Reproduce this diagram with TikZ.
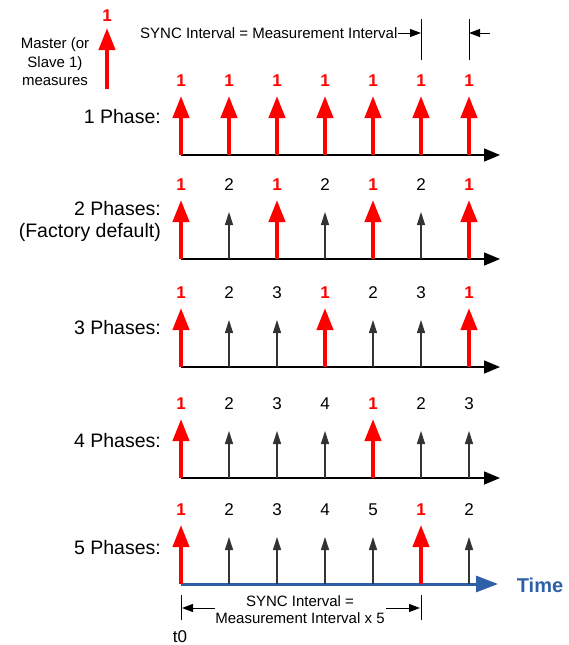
\documentclass[tikz,border=0pt]{standalone}
\usepackage{fontspec}
\setmainfont{Liberation Sans}
\usetikzlibrary{arrows.meta}
\definecolor{mred}{RGB}{255,0,0}
\definecolor{mblue}{RGB}{46,96,168}
\begin{document}
\begin{tikzpicture}[x=1pt,y=-1pt,
 redarr/.style={draw=mred, line width=4pt, -{Triangle[length=22pt,width=16pt]}},
 blkarr/.style={draw=black!80, line width=1.2pt, -{Triangle[length=13pt,width=8pt]}},
 axisline/.style={draw=black, line width=1.5pt, -{Triangle[length=16pt,width=13pt]}},
 blueaxis/.style={draw=mblue, line width=3pt, -{Triangle[length=22pt,width=16pt]}},
 rednum/.style={text=mred, font=\fontsize{17}{20}\selectfont\bfseries, inner sep=0pt},
 blknum/.style={font=\fontsize{17}{20}\selectfont, inner sep=0pt},
 rowlabel/.style={font=\fontsize{19.5}{22}\selectfont, anchor=east, inner sep=0pt, align=right},
 smalltext/.style={font=\fontsize{15}{18.5}\selectfont, inner sep=0pt, align=center},
 dimline/.style={draw=black, line width=1pt},
 dimarr/.style={draw=black, line width=1pt, -{Triangle[length=11pt,width=8pt]}},
]
\useasboundingbox (0,0) rectangle (568,645);

% legend
\node[rednum] (legnum) at (107,16) {1};
\coordinate (legb) at (107,89);
\coordinate (legt) at (107,28);
\draw[redarr] (legb) -- (legt);
\node[smalltext] (legtxt) at (55,62) {Master (or\\Slave 1)\\measures};

% top dimension
\node[smalltext, anchor=west] (synctxt) at (140,33) {SYNC Interval = Measurement Interval};
\coordinate (v1t) at (421,19); \coordinate (v1b) at (421,60);
\coordinate (v2t) at (469,19); \coordinate (v2b) at (469,60);
\draw[dimline] (v1t) -- (v1b);
\draw[dimline] (v2t) -- (v2b);
\coordinate (v1m) at (421,33);
\coordinate (v2m) at (469,33);
\coordinate (v2o) at (490,33);
\draw[dimarr] (synctxt.east) -- (v1m);
\draw[dimarr] (v2o) -- (v2m);

% row labels
\node[rowlabel] (lab1) at (161,117) {1 Phase:};
\node[rowlabel] (lab2) at (161,221) {2 Phases:\\(Factory default)};
\node[rowlabel] (lab3) at (161,328) {3 Phases:};
\node[rowlabel] (lab4) at (161,441) {4 Phases:};
\node[rowlabel] (lab5) at (161,548) {5 Phases:};

% rows
\foreach \r/\y in {1/155,2/259,3/367,4/478,5/584} {
  \coordinate (ax\r s) at (181,\y);
  \ifnum\r=5
    \coordinate (ax\r e) at (498,\y);
    \draw[blueaxis] (ax\r s) -- (ax\r e);
  \else
    \coordinate (ax\r e) at (500,\y);
    \draw[axisline] (ax\r s) -- (ax\r e);
  \fi
  \foreach \i in {0,...,6} {
    \pgfmathtruncatemacro\k{mod(\i,\r)}
    \pgfmathtruncatemacro\num{\k+1}
    \pgfmathsetmacro\xx{181+48*\i}
    \coordinate (b\r-\i) at (\xx,\y);
    \ifnum\k=0
      \coordinate (t\r-\i) at (\xx,\y-59);
      \draw[redarr] (b\r-\i) -- (t\r-\i);
      \node[rednum] (n\r-\i) at (\xx,\y-74) {\num};
    \else
      \coordinate (t\r-\i) at (\xx,\y-47);
      \draw[blkarr] (b\r-\i) -- (t\r-\i);
      \node[blknum] (n\r-\i) at (\xx,\y-74) {\num};
    \fi
  }
}

\node[text=mblue, font=\fontsize{20}{24}\selectfont\bfseries, inner sep=0pt] (time) at (540,585) {Time};

% bottom dimension
\coordinate (w1t) at (181,595); \coordinate (w1b) at (181,620);
\coordinate (w2t) at (421,595); \coordinate (w2b) at (421,620);
\draw[dimline] (w1t) -- (w1b);
\draw[dimline] (w2t) -- (w2b);
\node[smalltext, font=\fontsize{15}{17}\selectfont] (bottxt) at (300,610) {SYNC Interval =\\Measurement Interval x 5};
\coordinate (la) at (215,608); \coordinate (lb) at (182,608);
\coordinate (ra) at (386,608); \coordinate (rb) at (420,608);
\draw[dimarr] (la) -- (lb);
\draw[dimarr] (ra) -- (rb);
\node[blknum] (t0) at (180,637) {t0};
\end{tikzpicture}
\end{document}
